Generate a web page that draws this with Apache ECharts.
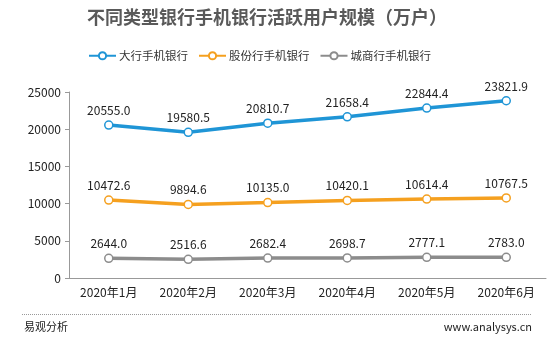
<!DOCTYPE html>
<html>
<head>
<meta charset="utf-8">
<script src="https://cdn.jsdelivr.net/npm/echarts@6/dist/echarts.min.js"></script>
<style>
  html, body { margin: 0; padding: 0; background: #fff; }
  #chart { width: 552px; height: 341px; }
</style>
</head>
<body>
<div id="chart"></div>
<script>
// Monthly active users of mobile banking apps by bank type (10k users)
const months = ['2020年1月', '2020年2月', '2020年3月', '2020年4月', '2020年5月', '2020年6月'];
const bigBanks = [20555.0, 19580.5, 20810.7, 21658.4, 22844.4, 23821.9];
const jointStockBanks = [10472.6, 9894.6, 10135.0, 10420.1, 10614.4, 10767.5];
const cityBanks = [2644.0, 2516.6, 2682.4, 2698.7, 2777.1, 2783.0];
const seriesNames = ['大行手机银行', '股份行手机银行', '城商行手机银行'];
const yTicks = { min: 0, max: 25000, interval: 5000 };

const FONT = '"Noto Sans CJK SC", "Noto Sans", sans-serif';
const colors = ['#1f95d6', '#f5a01f', '#8c8c8c'];

function lineSeries(name, data, color) {
  return {
    name: name,
    type: 'line',
    data: data,
    symbol: 'circle',
    symbolSize: 8,
    lineStyle: { width: 3.5, color: color },
    itemStyle: { color: '#fff', borderColor: color, borderWidth: 1.5 },
    label: {
      show: true,
      position: 'top',
      distance: 4,
      formatter: p => p.value.toFixed(1),
      color: '#222',
      fontSize: 12,
      fontFamily: FONT
    }
  };
}

const chart = echarts.init(document.getElementById('chart'), null, { renderer: 'canvas' });
chart.setOption({
  animation: false,
  backgroundColor: '#fff',
  title: {
    text: '不同类型银行手机银行活跃用户规模（万户）',
    left: 262,
    textAlign: 'center',
    top: 3,
    textStyle: { fontSize: 18, fontWeight: 'bold', color: '#595959', fontFamily: FONT }
  },
  legend: {
    top: 45,
    left: 83,
    itemWidth: 27,
    itemHeight: 9,
    itemGap: 10,
    textStyle: { fontSize: 11.5, color: '#333', fontFamily: FONT, padding: [0, 0, 0, -2] },
    data: seriesNames
  },
  grid: { left: 69, right: 6, top: 92, bottom: 63, containLabel: false },
  xAxis: {
    type: 'category',
    data: months,
    boundaryGap: true,
    axisLine: { lineStyle: { color: '#999', width: 1 } },
    axisTick: { show: false },
    axisLabel: { color: '#222', fontSize: 12, fontFamily: FONT, margin: 8 }
  },
  yAxis: {
    type: 'value',
    min: yTicks.min,
    max: yTicks.max,
    interval: yTicks.interval,
    axisLine: { show: true, lineStyle: { color: '#999', width: 1 } },
    axisTick: { show: true, length: 4, lineStyle: { color: '#999' } },
    splitLine: { show: false },
    axisLabel: { color: '#222', fontSize: 12, fontFamily: FONT, margin: 8, formatter: v => String(v) }
  },
  series: [
    lineSeries(seriesNames[0], bigBanks, colors[0]),
    lineSeries(seriesNames[1], jointStockBanks, colors[1]),
    lineSeries(seriesNames[2], cityBanks, colors[2])
  ],
  graphic: [
    {
      type: 'line',
      shape: { x1: 22, y1: 314.5, x2: 531, y2: 314.5 },
      style: { stroke: '#999', lineWidth: 1, lineDash: [1, 1] }
    },
    {
      type: 'text',
      left: 24,
      top: 321,
      style: { text: '易观分析', fontSize: 11, fill: '#222', fontFamily: FONT }
    },
    {
      type: 'text',
      right: 20,
      top: 321,
      style: { text: 'www.analysys.cn', fontSize: 11, fill: '#222', fontFamily: FONT }
    }
  ]
});
</script>
</body>
</html>
